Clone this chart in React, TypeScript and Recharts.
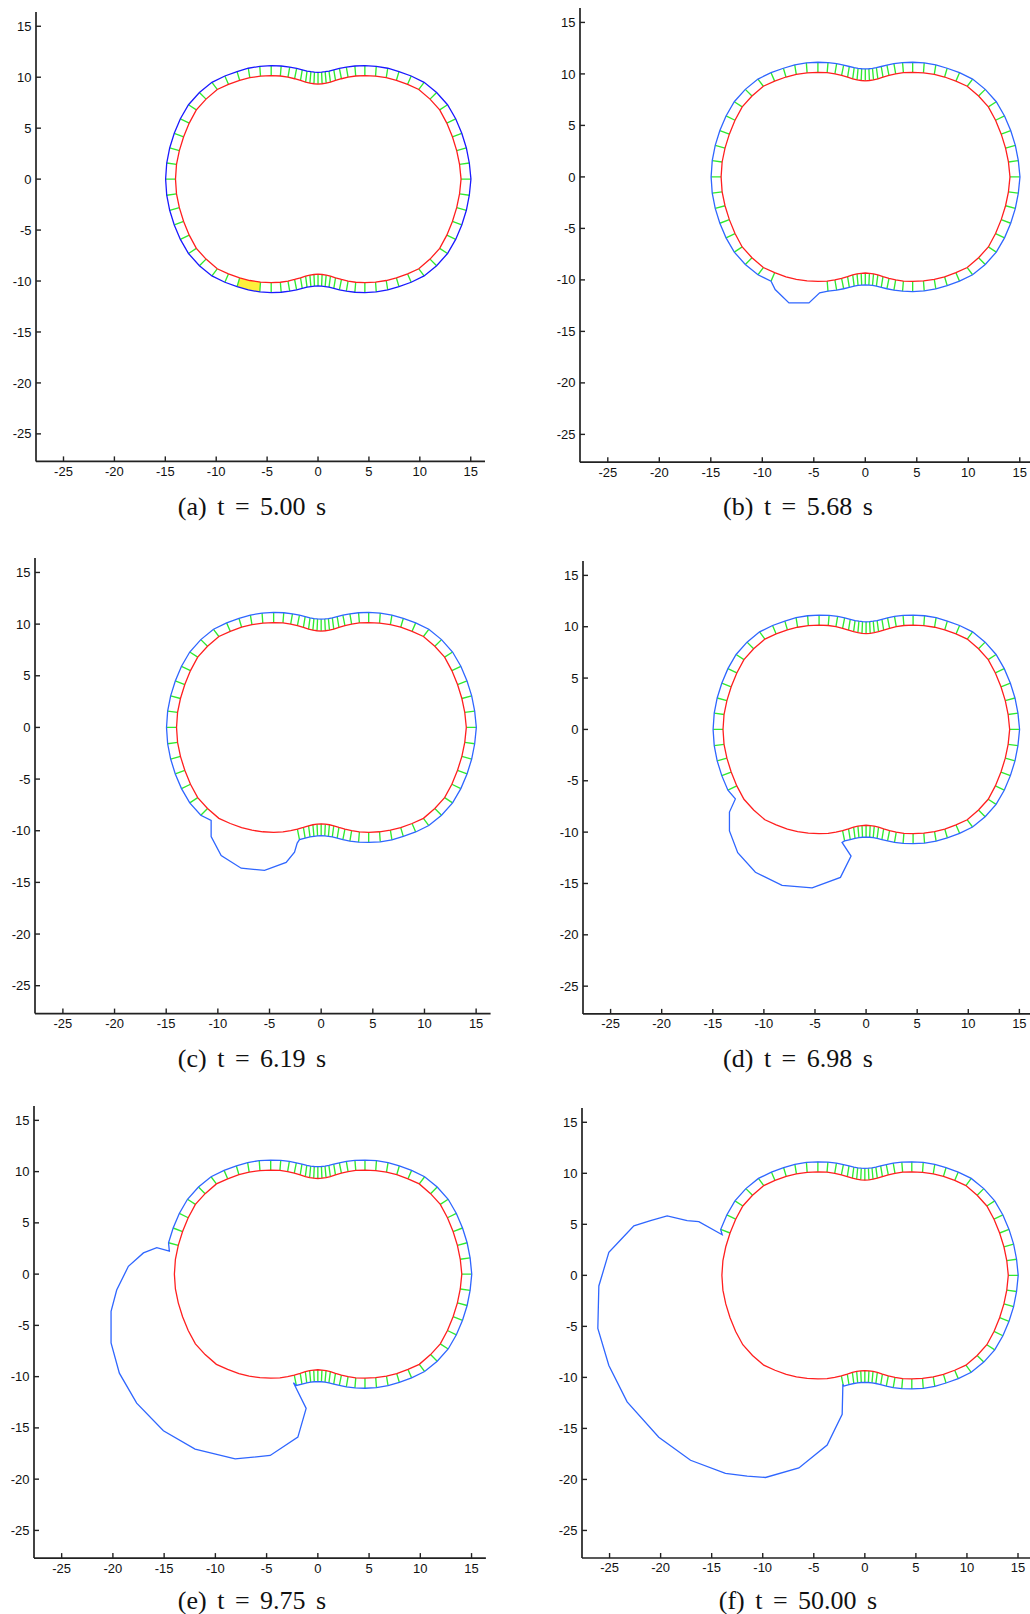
import React from 'react';
import { ScatterChart, Scatter, XAxis, YAxis } from 'recharts';

type Pt = { x: number; y: number };

// ---------------- data ----------------
const AXIS_TICKS = [-25, -20, -15, -10, -5, 0, 5, 10, 15];
const AXIS_DOMAIN: [number, number] = [-27.7, 16.4];

const panelLabels = [
  '(a) t = 5.00 s',
  '(b) t = 5.68 s',
  '(c) t = 6.19 s',
  '(d) t = 6.98 s',
  '(e) t = 9.75 s',
  '(f) t = 50.00 s',
];

// cortex nodes (red), counter-clockwise starting at the upper neck
const cortexX = [
  0, -0.4, -0.8, -1.22, -1.72, -2.3, -2.95, -3.7, -4.6, -5.65, -6.7, -7.7, -8.8, -9.9, -11.0, -11.95, -12.65, -13.2, -13.62, -13.9, -14.0,
  -13.9, -13.62, -13.2, -12.65, -11.95, -11.0, -9.9, -8.8, -7.7, -6.7, -5.65, -4.6, -3.7, -2.95, -2.3, -1.72, -1.22, -0.8, -0.4,
  0, 0.4, 0.8, 1.22, 1.72, 2.3, 2.95, 3.7, 4.6, 5.65, 6.7, 7.7, 8.8, 9.9, 11.0, 11.95, 12.65, 13.2, 13.62, 13.9, 14.05,
  13.9, 13.62, 13.2, 12.65, 11.95, 11.0, 9.9, 8.8, 7.7, 6.7, 5.65, 4.6, 3.7, 2.95, 2.3, 1.72, 1.22, 0.8, 0.4,
];
const cortexY = [
  9.33, 9.36, 9.42, 9.52, 9.68, 9.85, 10.0, 10.12, 10.15, 10.1, 9.95, 9.7, 9.3, 8.8, 7.85, 6.8, 5.5, 4.15, 2.8, 1.45, 0,
  -1.45, -2.8, -4.15, -5.5, -6.8, -7.85, -8.8, -9.3, -9.7, -9.95, -10.1, -10.15, -10.12, -10.0, -9.85, -9.68, -9.52, -9.42, -9.36,
  -9.33, -9.36, -9.42, -9.52, -9.68, -9.85, -10.0, -10.12, -10.15, -10.1, -9.95, -9.7, -9.3, -8.8, -7.85, -6.8, -5.5, -4.15, -2.8, -1.45, 0,
  1.45, 2.8, 4.15, 5.5, 6.8, 7.85, 8.8, 9.3, 9.7, 9.95, 10.1, 10.15, 10.12, 10.0, 9.85, 9.68, 9.52, 9.42, 9.36,
];

// membrane nodes (blue), one per cortex node
const membraneX = [
  0, -0.35, -0.7, -1.08, -1.55, -2.1, -2.78, -3.62, -4.6, -5.72, -6.85, -7.95, -9.15, -10.42, -11.65, -12.72, -13.52, -14.12, -14.57, -14.86, -14.97,
  -14.86, -14.57, -14.12, -13.52, -12.72, -11.65, -10.42, -9.15, -7.95, -6.85, -5.72, -4.6, -3.62, -2.78, -2.1, -1.55, -1.08, -0.7, -0.35,
  0, 0.35, 0.7, 1.08, 1.55, 2.1, 2.78, 3.62, 4.6, 5.72, 6.85, 7.95, 9.15, 10.42, 11.65, 12.72, 13.52, 14.12, 14.57, 14.86, 15.02,
  14.86, 14.57, 14.12, 13.52, 12.72, 11.65, 10.42, 9.15, 7.95, 6.85, 5.72, 4.6, 3.62, 2.78, 2.1, 1.55, 1.08, 0.7, 0.35,
];
const membraneY = [
  10.48, 10.5, 10.54, 10.6, 10.72, 10.86, 11.0, 11.1, 11.13, 11.07, 10.88, 10.55, 10.12, 9.5, 8.5, 7.3, 5.92, 4.5, 3.06, 1.58, 0,
  -1.58, -3.06, -4.5, -5.92, -7.3, -8.5, -9.5, -10.12, -10.55, -10.88, -11.07, -11.13, -11.1, -11.0, -10.86, -10.72, -10.6, -10.54, -10.5,
  -10.48, -10.5, -10.54, -10.6, -10.72, -10.86, -11.0, -11.1, -11.13, -11.07, -10.88, -10.55, -10.12, -9.5, -8.5, -7.3, -5.92, -4.5, -3.06, -1.58, 0,
  1.58, 3.06, 4.5, 5.92, 7.3, 8.5, 9.5, 10.12, 10.55, 10.88, 11.07, 11.13, 11.1, 11.0, 10.86, 10.72, 10.6, 10.54, 10.5,
];

// detached membrane (bleb) outlines per panel
const blebB = [[-8.75, -10.94], [-7.41, -12.23], [-5.47, -12.23], [-4.43, -11.26]];
const blebC = [[-10.65, -9.0], [-10.65, -10.57], [-9.68, -12.4], [-7.74, -13.63], [-5.48, -13.83], [-3.39, -13.07], [-2.58, -12.07], [-2.32, -11.2]];
const blebD = [[-12.79, -6.77], [-13.37, -8.05], [-13.37, -9.89], [-12.56, -12.0], [-10.83, -13.91], [-8.22, -15.19], [-5.28, -15.42], [-2.51, -14.41], [-1.47, -12.34], [-2.35, -11.0]];
const blebE = [[-14.49, 2.24], [-15.72, 2.59], [-17.02, 2.07], [-18.49, 0.76], [-19.63, -1.55], [-20.18, -3.62], [-20.18, -6.72], [-19.37, -9.66], [-17.68, -12.59], [-15.07, -15.28], [-11.98, -17.07], [-8.07, -18.03], [-4.65, -17.69], [-1.95, -15.9], [-1.14, -13.1], [-2.38, -10.59]];
const blebF = [[-13.97, 3.98], [-16.26, 5.26], [-17.4, 5.37], [-19.36, 5.82], [-20.99, 5.37], [-22.62, 4.85], [-23.93, 3.46], [-25.07, 2.25], [-26.05, -1.04], [-26.15, -5.2], [-25.07, -8.83], [-23.28, -12.4], [-20.18, -15.86], [-17.07, -18.12], [-13.65, -19.4], [-11.52, -19.67], [-9.73, -19.81], [-6.46, -18.88], [-3.69, -16.63], [-2.22, -13.61], [-2.15, -10.67]];
const blebs: (number[][] | null)[] = [null, blebB, blebC, blebD, blebE, blebF];

// index range of detached nodes per panel (inclusive)
const detachedFirst = [-1, 29, 27, 25, 19, 18];
const detachedLast = [-1, 32, 34, 34, 34, 34];

// highlighted (yellow) segment in panel (a): nodes 29..31
const highlightNodes = [29, 30, 31];

// ---------------- layout & style ----------------
const LAYOUT = [
  { L: 35.8, T: 12.4, R: 484.8, B: 461.8, cx: 252, cy: 515 },
  { L: 579.9, T: 7.6, R: 1034.1, B: 461.8, cx: 798, cy: 515 },
  { L: 34.8, T: 558.2, R: 490.4, B: 1013.8, cx: 252, cy: 1067 },
  { L: 582.7, T: 561.4, R: 1033.4, B: 1014.3, cx: 798, cy: 1067 },
  { L: 34.4, T: 1105.6, R: 486.3, B: 1557.7, cx: 252, cy: 1609 },
  { L: 582.4, T: 1107.5, R: 1032.7, B: 1557.5, cx: 798, cy: 1609 },
];

const AXIS_COLOR = '#222222';
const CORTEX_COLOR = '#ff1f1f';
const SPOKE_COLOR = '#30ea30';
const PATCH_COLOR = '#fff03c';
const MEMBRANE_COLORS = ['#1a1aff', '#2f66ff', '#2f66ff', '#2f66ff', '#2f66ff', '#2f66ff'];
const TICK_FONT = '"Liberation Sans", Arial, sans-serif';

const noDot = () => <g />;

const XTick = (props: any) => {
  const { x, y, payload } = props;
  return (
    <g>
      <line x1={x} y1={y} x2={x} y2={y - 5} stroke={AXIS_COLOR} strokeWidth={1.4} />
      <text x={x} y={y + 14.5} textAnchor="middle" fontSize={13} fontFamily={TICK_FONT} fill="#111">
        {payload.value}
      </text>
    </g>
  );
};

const YTick = (props: any) => {
  const { x, y, payload } = props;
  return (
    <g>
      <line x1={x} y1={y} x2={x + 5} y2={y} stroke={AXIS_COLOR} strokeWidth={1.4} />
      <text x={x - 4.5} y={y + 4.6} textAnchor="end" fontSize={13} fontFamily={TICK_FONT} fill="#111">
        {payload.value}
      </text>
    </g>
  );
};

const spokeLine = (p: any) => {
  const pts = p.points || [];
  let d = '';
  for (let i = 0; i + 1 < pts.length; i += 2) {
    d += `M${pts[i].x},${pts[i].y}L${pts[i + 1].x},${pts[i + 1].y}`;
  }
  return <path d={d} stroke={SPOKE_COLOR} strokeWidth={1.35} fill="none" />;
};

const patchLine = (p: any) => {
  const pts = p.points || [];
  return <polygon points={pts.map((q: any) => `${q.x},${q.y}`).join(' ')} fill={PATCH_COLOR} stroke="none" />;
};

const node = (xs: number[], ys: number[], i: number): Pt => ({ x: xs[i], y: ys[i] });

function Panel({ idx }: { idx: number }) {
  const lay = LAYOUT[idx];
  const yw = 45, xh = 30, mt = 10, mr = 10;
  const w = lay.R - lay.L + yw + mr;
  const h = lay.B - lay.T + mt + xh;
  const n = cortexX.length;
  const first = detachedFirst[idx];
  const last = detachedLast[idx];
  const bleb = blebs[idx];

  const cortex: Pt[] = [];
  for (let i = 0; i < n; i++) cortex.push(node(cortexX, cortexY, i));
  cortex.push(node(cortexX, cortexY, 0));

  const membrane: Pt[] = [];
  for (let i = 0; i < n; i++) {
    if (bleb && i === first) {
      bleb.forEach((b) => membrane.push({ x: b[0], y: b[1] }));
    }
    if (bleb && i >= first && i <= last) continue;
    membrane.push(node(membraneX, membraneY, i));
  }
  membrane.push(node(membraneX, membraneY, 0));

  const patch: Pt[] | null = idx === 0
    ? [
        ...highlightNodes.map((i) => node(cortexX, cortexY, i)),
        ...highlightNodes.slice().reverse().map((i) => node(membraneX, membraneY, i)),
      ]
    : null;

  const spokes: Pt[] = [];
  for (let i = 0; i < n; i++) {
    if (bleb && i >= first && i <= last) continue;
    if (idx === 0 && i > highlightNodes[0] && i < highlightNodes[highlightNodes.length - 1]) continue;
    spokes.push(node(cortexX, cortexY, i));
    spokes.push(node(membraneX, membraneY, i));
  }

  return (
    <div style={{ position: 'absolute', left: lay.L - yw, top: lay.T - mt }}>
      <ScatterChart width={w} height={h} margin={{ top: mt, right: mr, bottom: 0, left: 0 }}>
        <XAxis
          type="number"
          dataKey="x"
          domain={AXIS_DOMAIN}
          ticks={AXIS_TICKS}
          allowDataOverflow
          height={xh}
          tickSize={0}
          tickMargin={0}
          tickLine={false}
          interval={0}
          axisLine={{ stroke: AXIS_COLOR, strokeWidth: 1.7 }}
          tick={XTick}
        />
        <YAxis
          type="number"
          dataKey="y"
          domain={AXIS_DOMAIN}
          ticks={AXIS_TICKS}
          allowDataOverflow
          width={yw}
          tickSize={0}
          tickMargin={0}
          tickLine={false}
          interval={0}
          axisLine={{ stroke: AXIS_COLOR, strokeWidth: 1.7 }}
          tick={YTick}
        />
        {patch && (
          <Scatter data={patch} shape={noDot} line={patchLine} lineType="joint" isAnimationActive={false} />
        )}
        <Scatter data={spokes} shape={noDot} line={spokeLine} lineType="joint" isAnimationActive={false} />
        <Scatter
          data={cortex}
          shape={noDot}
          fill={CORTEX_COLOR}
          line={{ stroke: CORTEX_COLOR, strokeWidth: 1.3 }}
          lineType="joint"
          lineJointType="linear"
          isAnimationActive={false}
        />
        <Scatter
          data={membrane}
          shape={noDot}
          fill={MEMBRANE_COLORS[idx]}
          line={{ stroke: MEMBRANE_COLORS[idx], strokeWidth: 1.3 }}
          lineType="joint"
          lineJointType="linear"
          isAnimationActive={false}
        />
      </ScatterChart>
    </div>
  );
}

export default function App() {
  return (
    <div
      style={{
        position: 'absolute',
        left: 0,
        top: 0,
        width: 1030,
        height: 1614,
        overflow: 'hidden',
        background: '#ffffff',
      }}
    >
      {LAYOUT.map((_, i) => (
        <Panel key={i} idx={i} />
      ))}
      <svg width={1030} height={1614} style={{ position: 'absolute', left: 0, top: 0, pointerEvents: 'none' }}>
        {LAYOUT.map((lay, i) => (
          <text
            key={i}
            x={lay.cx}
            y={lay.cy}
            textAnchor="middle"
            fontSize={26}
            fontFamily='"Liberation Serif", "Times New Roman", serif'
            wordSpacing={4}
            fill="#111"
          >
            {panelLabels[i]}
          </text>
        ))}
      </svg>
    </div>
  );
}
